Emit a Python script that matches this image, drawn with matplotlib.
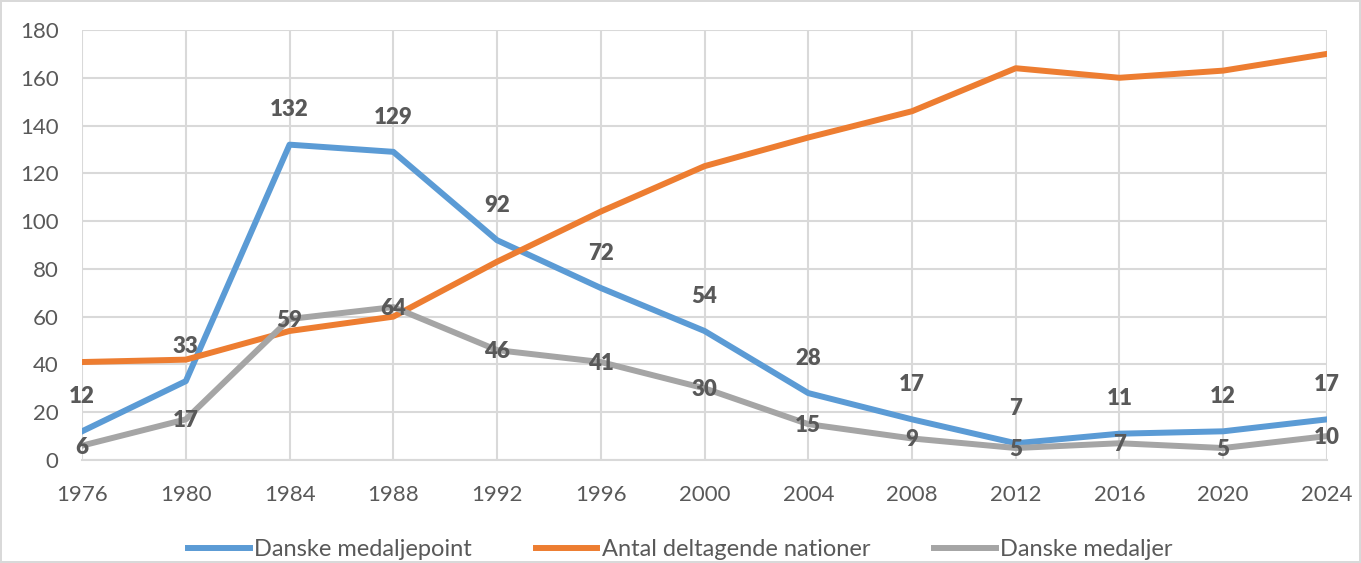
import matplotlib
matplotlib.use("Agg")
import matplotlib.pyplot as plt

# Data
years = [1976, 1980, 1984, 1988, 1992, 1996, 2000, 2004, 2008, 2012, 2016, 2020, 2024]
medaljepoint = [12, 33, 132, 129, 92, 72, 54, 28, 17, 7, 11, 12, 17]
nationer = [41, 42, 54, 60, 83, 104, 123, 135, 146, 164, 160, 163, 170]
medaljer = [6, 17, 59, 64, 46, 41, 30, 15, 9, 5, 7, 5, 10]

BLUE = "#5B9BD5"
ORANGE = "#ED7D31"
GRAY = "#A5A5A5"
TXT = "#595959"
GRID = "#D9D9D9"

plt.rcParams['font.family'] = ['Lato', 'DejaVu Sans']

fig = plt.figure(figsize=(13.61, 5.63), dpi=100)
fig.patch.set_edgecolor(GRID)
fig.patch.set_linewidth(1.5)
ax = fig.add_axes([0.0603, 0.183, 0.9147, 0.7637])

x = list(range(len(years)))
ax.plot(x, medaljepoint, color=BLUE, lw=4.3, label="Danske medaljepoint",
        solid_joinstyle='round', zorder=3)
ax.plot(x, nationer, color=ORANGE, lw=4.3, label="Antal deltagende nationer",
        solid_joinstyle='round', zorder=3)
ax.plot(x, medaljer, color=GRAY, lw=4.3, label="Danske medaljer",
        solid_joinstyle='round', zorder=3)

# data labels: blue above the point, gray centred on it
for xi, v in zip(x, medaljepoint):
    ax.annotate(str(v), (xi, v), xytext=(0, 25), textcoords='offset points',
                ha='center', va='center', fontsize=16, fontweight='heavy',
                color=TXT, zorder=4)
for xi, v in zip(x, medaljer):
    ax.annotate(str(v), (xi, v), xytext=(0, -1), textcoords='offset points',
                ha='center', va='center', fontsize=16, fontweight='heavy',
                color=TXT, zorder=4)

ax.set_xlim(0, len(years) - 1)
ax.set_ylim(0, 180)
ax.set_yticks(range(0, 181, 20))
ax.set_xticks(x)
ax.set_xticklabels([str(y) for y in years])
ax.tick_params(length=0, labelsize=16, labelcolor=TXT)
ax.tick_params(axis='x', pad=18)
ax.tick_params(axis='y', pad=17)
ax.grid(True, color=GRID, lw=1.5)
ax.set_axisbelow(True)
for s in ax.spines.values():
    s.set_visible(False)
ax.spines['bottom'].set_visible(True)
ax.spines['bottom'].set_color(GRID)
ax.spines['bottom'].set_linewidth(1.5)

leg = fig.legend(loc='lower center', bbox_to_anchor=(0.5, -0.033), ncol=3,
                 frameon=False, fontsize=17, handlelength=2.6, handletextpad=0.2,
                 columnspacing=2.7)
for t in leg.get_texts():
    t.set_color(TXT)

fig.savefig("out.png", dpi=100)
